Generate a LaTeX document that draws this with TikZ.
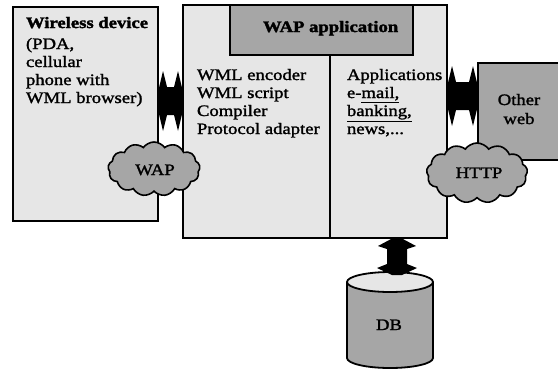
\documentclass[tikz,border=0pt]{standalone}
\usepackage{fontspec}
\setmainfont[FakeStretch=1.17, UprightFeatures={FakeBold=1.6}, BoldFeatures={FakeBold=2}]{Liberation Serif}
\usetikzlibrary{shapes.symbols,calc}
\definecolor{lightfill}{RGB}{230,230,230}
\definecolor{midfill}{RGB}{166,166,166}
\begin{document}
\begin{tikzpicture}[x=1bp,y=-1bp, line width=1.8bp,
  box/.style={draw, rectangle, inner sep=0, outer sep=0},
  txt/.style={inner sep=0, outer sep=0, anchor=base west, font=\fontsize{16}{19}\selectfont},
  btxt/.style={txt, font=\fontsize{16}{19}\selectfont\bfseries},
  ctxt/.style={txt, anchor=base},
  cloudnode/.style={cloud, draw, fill=midfill, cloud puffs=13, cloud puff arc=110,
    cloud ignores aspect, inner sep=0, outer sep=0, line width=1.6bp},
  fatarrow/.style={fill=black, draw=none}]
\clip (0,0) rectangle (558,372);
\fill[white] (0,0) rectangle (558,372);

% boxes
\node[box, fill=lightfill, minimum width=145bp, minimum height=214bp] (wd) at (85.5,114) {};
\node[box, fill=lightfill, minimum width=264bp, minimum height=233bp] (main) at (315,121.5) {};
\node[box, fill=midfill, minimum width=183bp, minimum height=50bp] (app) at (321.5,30) {};
\node[box, fill=midfill, minimum width=90bp, minimum height=97bp] (ow) at (523,111.5) {};
\draw (330,0 |- app.south) -- (330,0 |- main.south);

% database cylinder
\coordinate (dbtl) at (347,282);
\coordinate (dbbl) at (347,358);
\fill[midfill] (dbtl) -- (dbbl) arc[start angle=180, end angle=360, x radius=43bp, y radius=10bp]
  -- (433,282) -- cycle;
\draw (dbtl) -- (dbbl) arc[start angle=180, end angle=360, x radius=43bp, y radius=10bp] -- (433,282);
\draw[fill=lightfill] (390,282) ellipse[x radius=43bp, y radius=10bp];
\node[ctxt] (db) at (389,330) {DB};
\coordinate (dbtop) at (397,275);

% left fat double arrow
\coordinate (la) at (wd.east |- 0,101);
\coordinate (lb) at (main.west |- 0,101);
\fill[fatarrow] (la) -- ([yshift=9bp]la) -- ([xshift=5bp,yshift=30bp]la) -- ([xshift=9bp,yshift=14bp]la)
  -- ([xshift=-9bp,yshift=14bp]lb) -- ([xshift=-5bp,yshift=30bp]lb) -- ([yshift=9bp]lb)
  -- ([yshift=-9bp]lb) -- ([xshift=-5bp,yshift=-30bp]lb) -- ([xshift=-9bp,yshift=-14bp]lb)
  -- ([xshift=9bp,yshift=-14bp]la) -- ([xshift=5bp,yshift=-30bp]la) -- ([yshift=-9bp]la) -- cycle;

% right fat double arrow
\coordinate (ra) at (main.east |- 0,96);
\coordinate (rb) at (ow.west |- 0,96);
\fill[fatarrow] (ra) -- ([yshift=9bp]ra) -- ([xshift=5bp,yshift=30bp]ra) -- ([xshift=9bp,yshift=14bp]ra)
  -- ([xshift=-9bp,yshift=14bp]rb) -- ([xshift=-5bp,yshift=30bp]rb) -- ([yshift=9bp]rb)
  -- ([yshift=-9bp]rb) -- ([xshift=-5bp,yshift=-30bp]rb) -- ([xshift=-9bp,yshift=-14bp]rb)
  -- ([xshift=9bp,yshift=-14bp]ra) -- ([xshift=5bp,yshift=-30bp]ra) -- ([yshift=-9bp]ra) -- cycle;

% vertical fat double arrow to DB
\coordinate (va) at (main.south -| 397,0);
\fill[fatarrow] (va) -- ([xshift=4bp]va) -- ([xshift=19bp,yshift=-8bp]va) -- ([xshift=10bp,yshift=-11bp]va)
  -- ([xshift=10bp,yshift=11bp]dbtop) -- ([xshift=20bp,yshift=7bp]dbtop) -- ([xshift=5bp]dbtop)
  -- ([xshift=-5bp]dbtop) -- ([xshift=-20bp,yshift=7bp]dbtop) -- ([xshift=-10bp,yshift=11bp]dbtop)
  -- ([xshift=-10bp,yshift=-11bp]va) -- ([xshift=-19bp,yshift=-8bp]va) -- ([xshift=-4bp]va) -- cycle;

% clouds
\node[cloudnode, minimum width=92bp, minimum height=54bp] (wapc) at (154,169) {};
\node[cloudnode, minimum width=101bp, minimum height=60bp] (httpc) at (477,173) {};
\node[ctxt] (waptxt) at (155,175) {WAP};
\node[ctxt] (httptxt) at (479,178) {HTTP};

% texts
\node[btxt] (t1) at (26,28) {Wireless device};
\node[txt] (t2) at (26,49) {(PDA,};
\node[txt] (t3) at (26,67) {cellular};
\node[txt] (t4) at (26,85) {phone with};
\node[txt] (t5) at (26,103) {WML browser)};

\node[btxt] (apptxt) at (263,32) {WAP application};

\node[txt] (m1) at (197,80) {WML encoder};
\node[txt] (m2) at (197,98) {WML script};
\node[txt] (m3) at (197,116) {Compiler};
\node[txt] (m4) at (197,134) {Protocol adapter};

\node[txt] (r1) at (347,80) {Applications};
\node[txt] (r2) at (347,98) {e-\underline{mail,}};
\node[txt] (r3) at (347,116) {\underline{banking,}};
\node[txt] (r4) at (347,134) {news,...};

\node[ctxt] (o1) at (519,105) {Other};
\node[ctxt] (o2) at (519,124) {web};
\end{tikzpicture}
\end{document}
